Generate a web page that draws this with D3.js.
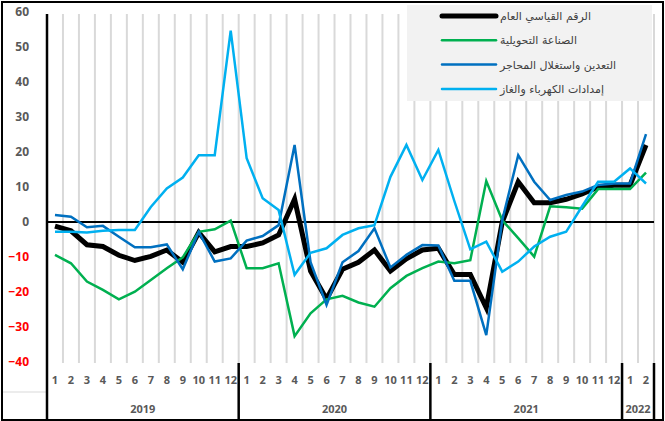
<!DOCTYPE html>
<html>
<head>
<meta charset="utf-8">
<script src="https://cdn.jsdelivr.net/npm/d3@7"></script>
<style>
  body { margin: 0; background: #fff; }
  svg { display: block; }
  .tick text { font-family: 'Open Sans', sans-serif; font-weight: bold; }
</style>
</head>
<body>
<svg id="chart" width="665" height="421"></svg>
<script>
const years = ['2019', '2020', '2021', '2022'];
const monthsInYear = [12, 12, 12, 2];
const yTicks = [-40, -30, -20, -10, 0, 10, 20, 30, 40, 50, 60];

const seriesNames = [
  'الرقم القياسي العام',
  'الصناعة التحويلية',
  'التعدين واستغلال المحاجر',
  'إمدادات الكهرباء والغاز'
];

const generalIndex = [
  -1.2, -2.5, -6.5, -7, -9.5, -11, -9.8, -8, -11.5, -3, -8.5, -7,
  -7, -6, -3.7, 6.5, -14, -22, -13.5, -11.5, -8, -14, -10.5, -8,
  -7.5, -15, -15, -24.5, 0, 11.5, 5.5, 5.5, 6.5, 8, 10, 10.5,
  10.5, 22
];
const manufacturing = [
  -9.4, -11.8, -17, -19.4, -22.1, -19.9, -16.6, -13.2, -10.1, -2.8, -2.1, 0.4,
  -13.2, -13.2, -11.8, -32.6, -26.1, -22.1, -21.1, -23, -24.2, -18.9, -15.4, -13.2,
  -11.3, -11.8, -10.9, 11.7, 0.5, -4.6, -9.9, 4.5, 4.2, 3.8, 9.4, 9.4,
  9.4, 14.1
];
const mining = [
  2, 1.5, -1.5, -1.1, -4.2, -7.2, -7.2, -6.4, -13.5, -2.8, -11.3, -10.4,
  -5.3, -4, -0.9, 22, -11.5, -23.7, -11.5, -8.3, -1.8, -13, -9.4, -6.6,
  -6.7, -16.8, -16.8, -32.3, 0.5, 19.1, 11.5, 6.3, 7.7, 8.7, 10.6, 11,
  11, 25.1
];
const electricity = [
  -2.8, -2.8, -3, -2.5, -2.3, -2.3, 4.3, 9.6, 12.7, 19.1, 19.1, 54.7,
  18.2, 6.8, 3.4, -15.1, -8.8, -7.5, -3.7, -1.8, -0.9, 12.9, 22, 12,
  20.6, 6, -7.8, -5.6, -14.2, -11.3, -7, -4.2, -2.8, 4.5, 11.5, 11.5,
  15.3, 11
];

const colors = ['#000000', '#00b050', '#0070c0', '#00b0f0'];
const widths = [5, 2.5, 2.5, 2.5];
const allSeries = [generalIndex, manufacturing, mining, electricity];

// category keys like 2019-1
const categories = [];
years.forEach((y, i) => {
  for (let m = 1; m <= monthsInYear[i]; m++) categories.push(y + '-' + m);
});

const svg = d3.select('#chart');

const plotLeft = 47, plotRight = 654, plotTop = 12, plotBottom = 362;

const xScale = d3.scaleBand()
  .domain(categories)
  .range([plotLeft, plotRight])
  .padding(0);

const yScale = d3.scaleLinear()
  .domain([-40, 60])
  .range([plotBottom, plotTop]);

const cx = (c) => xScale(c) + xScale.bandwidth() / 2;

// outer frame
svg.append('rect')
  .attr('x', 2).attr('y', 2)
  .attr('width', 661).attr('height', 418)
  .attr('fill', 'none')
  .attr('stroke', '#000')
  .attr('stroke-width', 2);

// vertical gridlines at category boundaries
svg.append('g')
  .selectAll('line')
  .data(categories)
  .enter()
  .append('line')
  .attr('x1', (c) => xScale(c) + xScale.bandwidth())
  .attr('x2', (c) => xScale(c) + xScale.bandwidth())
  .attr('y1', plotTop + 2)
  .attr('y2', plotBottom + 1)
  .attr('stroke', '#d9d9d9')
  .attr('stroke-width', 2);

// y axis labels
const yAxis = svg.append('g')
  .attr('transform', `translate(${plotLeft}, 0)`)
  .call(d3.axisLeft(yScale).tickValues(yTicks).tickSize(0).tickPadding(18).tickFormat(d3.format('d')));
yAxis.select('.domain').remove();
yAxis.selectAll('text')
  .attr('font-size', 12)
  .attr('fill', (d) => d < 0 ? '#ff0000' : '#595959');

// month labels
const xAxis = svg.append('g')
  .attr('transform', `translate(0, ${plotBottom})`)
  .call(d3.axisBottom(xScale).tickSize(0).tickPadding(14).tickFormat((c) => c.split('-')[1]));
xAxis.select('.domain').remove();
xAxis.selectAll('text')
  .attr('font-size', 11)
  .attr('fill', '#595959');

// year labels and separators
let start = 0;
years.forEach((y, i) => {
  const first = categories[start];
  const last = categories[start + monthsInYear[i] - 1];
  const x0 = xScale(first);
  const x1 = xScale(last) + xScale.bandwidth();
  svg.append('text')
    .attr('x', (x0 + x1) / 2)
    .attr('y', 413)
    .attr('text-anchor', 'middle')
    .attr('font-family', "'Open Sans', sans-serif")
    .attr('font-weight', 'bold')
    .attr('font-size', 11)
    .attr('fill', '#595959')
    .text(y);
  svg.append('line')
    .attr('x1', x1).attr('x2', x1)
    .attr('y1', plotBottom + 1).attr('y2', 421)
    .attr('stroke', '#000')
    .attr('stroke-width', 2.5);
  start += monthsInYear[i];
});

svg.append('line')
  .attr('x1', 3).attr('x2', plotLeft)
  .attr('y1', 392).attr('y2', 392)
  .attr('stroke', '#d9d9d9')
  .attr('stroke-width', 1);

// left axis line
svg.append('line')
  .attr('x1', plotLeft).attr('x2', plotLeft)
  .attr('y1', plotTop + 2).attr('y2', 421)
  .attr('stroke', '#000')
  .attr('stroke-width', 2.5);

// zero line
svg.append('line')
  .attr('x1', plotLeft).attr('x2', plotRight)
  .attr('y1', yScale(0)).attr('y2', yScale(0))
  .attr('stroke', '#000')
  .attr('stroke-width', 2);

// series lines
const line = d3.line()
  .x((d, i) => cx(categories[i]))
  .y((d) => yScale(d));

allSeries.forEach((s, k) => {
  svg.append('path')
    .attr('d', line(s))
    .attr('fill', 'none')
    .attr('stroke', colors[k])
    .attr('stroke-width', widths[k])
    .attr('stroke-linejoin', 'miter')
    .attr('stroke-linecap', 'butt');
});

// legend
const legend = svg.append('g');
legend.append('rect')
  .attr('x', 407).attr('y', 5)
  .attr('width', 245).attr('height', 96)
  .attr('fill', '#f2f2f2');

seriesNames.forEach((name, k) => {
  const ly = 16 + k * 24.3;
  legend.append('line')
    .attr('x1', 442).attr('x2', 496)
    .attr('y1', ly).attr('y2', ly)
    .attr('stroke', colors[k])
    .attr('stroke-width', widths[k])
    .attr('stroke-linecap', 'round');
  legend.append('text')
    .attr('x', 500)
    .attr('y', ly + 4)
    .attr('font-family', "'DejaVu Sans', sans-serif")
    .attr('font-size', 11)
    .attr('fill', '#404040')
    .text(name);
});
</script>
</body>
</html>
